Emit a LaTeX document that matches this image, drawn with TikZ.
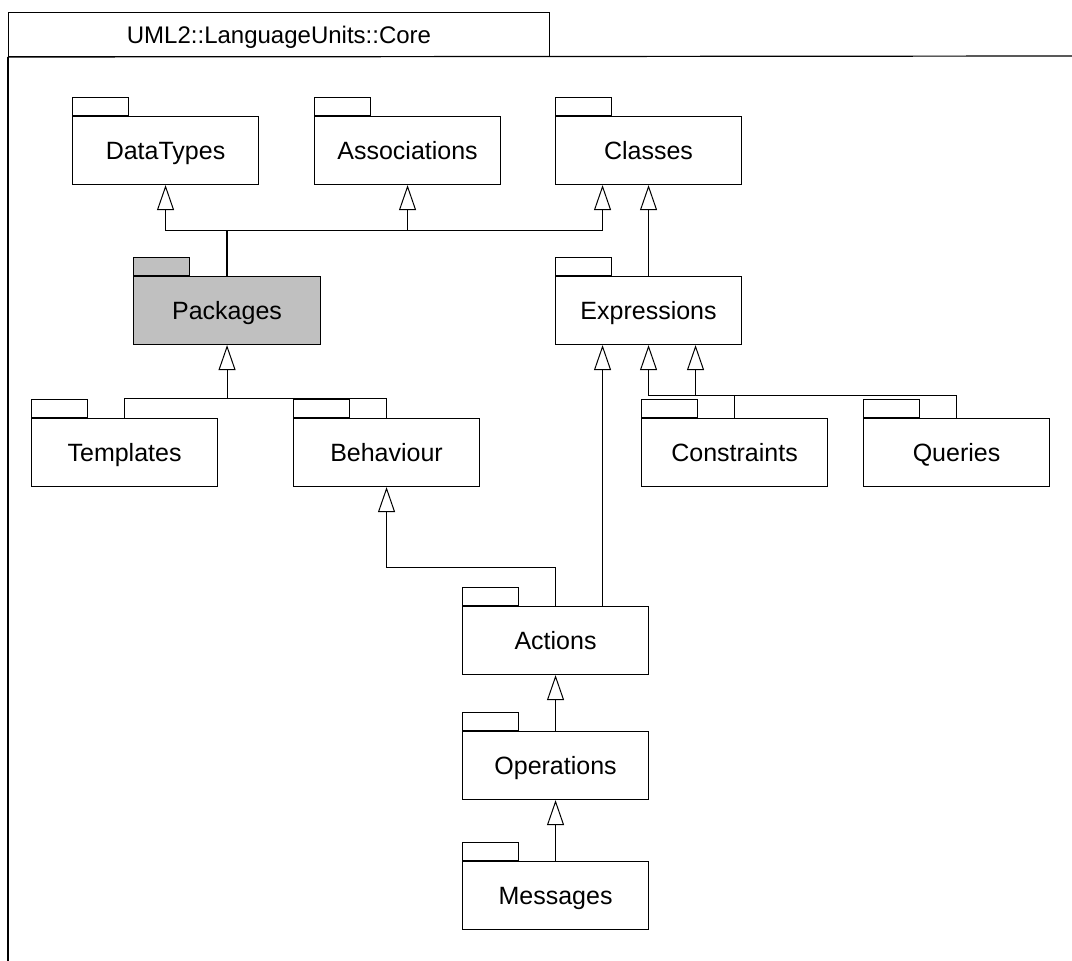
\documentclass[tikz,border=0pt]{standalone}
\usepackage{fontspec}
\setmainfont{Liberation Sans}
\usetikzlibrary{arrows.meta}
\begin{document}
\begin{tikzpicture}[x=1pt,y=-1pt,
  pkgbody/.style={draw=black, line width=1.1pt, fill=white, minimum width=186pt, minimum height=68pt,
    inner sep=0pt, anchor=north west, text height=17.5pt, text depth=0pt,
    font=\fontsize{25}{28}\selectfont},
  pkgtab/.style={draw=black, line width=1.1pt, fill=white, minimum width=56pt, minimum height=18pt,
    inner sep=0pt, anchor=south west},
  conn/.style={line width=1pt, draw=black},
  gen/.style={conn, -{Triangle[open, length=25pt, width=17pt, line width=1pt]}},
  titletext/.style={font=\fontsize{24}{28}\selectfont, text height=17pt, text depth=0pt}
]
\useasboundingbox (0,0) rectangle (1072,961);
% frame
\node[draw=black, line width=1pt, minimum width=541pt, minimum height=44pt, inner sep=0pt, anchor=north west,
  titletext] (title) at (8,12) {UML2::LanguageUnits::Core};
\coordinate (frTR) at (1072,56);
\coordinate (frBL) at (8,961);
\draw[line width=1.2pt] (title.south west) -- (frTR);
\draw[line width=1.6pt] (title.south west) -- (frBL);

% packages
\node[pkgbody] (dt) at (72,116) {DataTypes};
\node[pkgtab] at (dt.north west) {};
\node[pkgbody] (as) at (314,116) {Associations};
\node[pkgtab] at (as.north west) {};
\node[pkgbody] (cl) at (555,116) {Classes};
\node[pkgtab] at (cl.north west) {};
\node[pkgbody, fill={rgb,255:red,192;green,192;blue,192}, minimum width=187pt] (pk) at (133,276) {Packages};
\node[pkgtab, fill={rgb,255:red,192;green,192;blue,192}] at (pk.north west) {};
\node[pkgbody] (ex) at (555,276) {Expressions};
\node[pkgtab] at (ex.north west) {};
\node[pkgbody] (tp) at (31,418) {Templates};
\node[pkgtab] at (tp.north west) {};
\node[pkgbody] (bh) at (293,418) {Behaviour};
\node[pkgtab] at (bh.north west) {};
\node[pkgbody] (cn) at (641,418) {Constraints};
\node[pkgtab] at (cn.north west) {};
\node[pkgbody] (qu) at (863,418) {Queries};
\node[pkgtab] at (qu.north west) {};
\node[pkgbody] (ac) at (462,606) {Actions};
\node[pkgtab] at (ac.north west) {};
\node[pkgbody] (op) at (462,731) {Operations};
\node[pkgtab] at (op.north west) {};
\node[pkgbody] (ms) at (462,861) {Messages};
\node[pkgtab] at (ms.north west) {};

% Packages -> DataTypes, Associations, Classes
\coordinate (busP) at (pk.north |- 0,230);
\draw[conn, line width=1.8pt] (pk.north) -- (busP);
\draw[gen] (busP) -| (dt.south);
\draw[gen] (busP) -| (as.south);
\coordinate (clL) at ([xshift=-46pt]cl.south);
\draw[gen] (busP) -| (clL);

% Expressions -> Classes
\draw[gen] (ex.north) -- (cl.south);

% Templates, Behaviour -> Packages
\coordinate (busT) at (pk.south |- 0,398);
\draw[gen] (busT) -- (pk.south);
\draw[conn] (busT) -| (tp.north);
\draw[conn] (busT) -| (bh.north);

% Constraints, Queries -> Expressions
\coordinate (exR) at ([xshift=47pt]ex.south);
\coordinate (busE) at (exR |- 0,395);
\draw[gen] (busE) -- (exR);
\draw[gen] (busE) -| (ex.south);
\draw[conn] (busE) -| (cn.north);
\draw[conn] (busE) -| (qu.north);

% Actions -> Expressions
\coordinate (acR) at ([xshift=47pt]ac.north);
\coordinate (exL) at ([xshift=-46pt]ex.south);
\draw[gen] (acR) -- (exL);

% Actions -> Behaviour
\draw[gen] (ac.north) -- ++(0,-39) -| (bh.south);

% Operations -> Actions, Messages -> Operations
\draw[gen] (op.north) -- (ac.south);
\draw[gen] (ms.north) -- (op.south);
\end{tikzpicture}
\end{document}
